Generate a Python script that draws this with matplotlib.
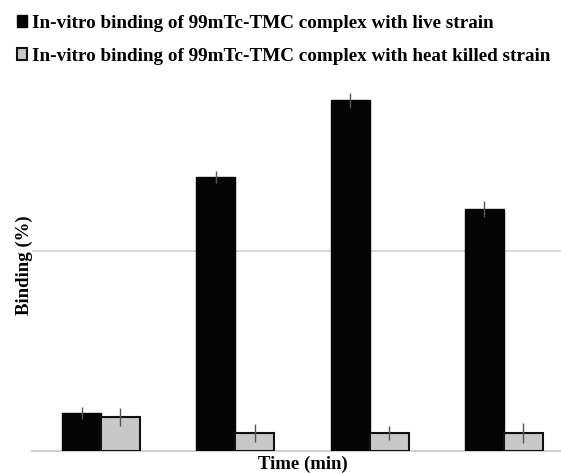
import matplotlib.pyplot as plt
import numpy as np

plt.rcParams['font.family'] = ['Liberation Serif', 'DejaVu Serif']
plt.rcParams['font.weight'] = 'bold'

times = ['15', '30', '60', '120']
live = [9.5, 68.3, 87.5, 60.3]
live_err = [1.5, 1.5, 1.8, 2.0]
killed = [8.5, 4.5, 4.5, 4.5]
killed_err = [2.3, 2.3, 1.8, 2.5]

labels = ['In-vitro binding of 99mTc-TMC complex with live strain',
          'In-vitro binding of 99mTc-TMC complex with heat killed strain']

fig = plt.figure(figsize=(5.61, 4.73), dpi=100)
ax = fig.add_axes([0.057, 0.047, 0.943, 0.785])

x = np.arange(len(times))
w = 0.29
b1 = ax.bar(x - w / 2, live, w, color='#050505', edgecolor='#050505', linewidth=1,
            yerr=live_err, error_kw=dict(ecolor='#555555', elinewidth=1, capsize=0))
b2 = ax.bar(x + w / 2, killed, w, color='#c8c8c8', edgecolor='#111111', linewidth=1.5,
            yerr=killed_err, error_kw=dict(ecolor='#555555', elinewidth=1, capsize=0))

ax.set_xlim(-0.514, 3.425)
ax.set_ylim(0, 92.75)
ax.set_yticks([50])
ax.yaxis.grid(True, color='#d0d0d0', linewidth=1.2)
ax.set_axisbelow(True)
ax.tick_params(left=False, bottom=False, labelleft=False, labelbottom=False)
for s in ['left', 'right', 'top']:
    ax.spines[s].set_visible(False)
ax.spines['bottom'].set_color('#d0d0d0')
ax.spines['bottom'].set_linewidth(1.5)
ax.spines['bottom'].set_zorder(0)

ax.set_xlabel('Time (min)', fontsize=13.5, fontweight='bold')
ax.set_ylabel('Binding (%)', fontsize=13.5, fontweight='bold')
ax.xaxis.set_label_coords(0.512, -0.013)
ax.yaxis.set_label_coords(0.002, 0.5)

fig.legend([b1, b2], labels, loc='upper left', bbox_to_anchor=(0.030, 0.969),
           frameon=False, fontsize=13.8, handlelength=0.55, handleheight=0.55,
           handletextpad=0.26, labelspacing=0.85, borderaxespad=0, borderpad=0)

fig.savefig('out.png', dpi=100)
